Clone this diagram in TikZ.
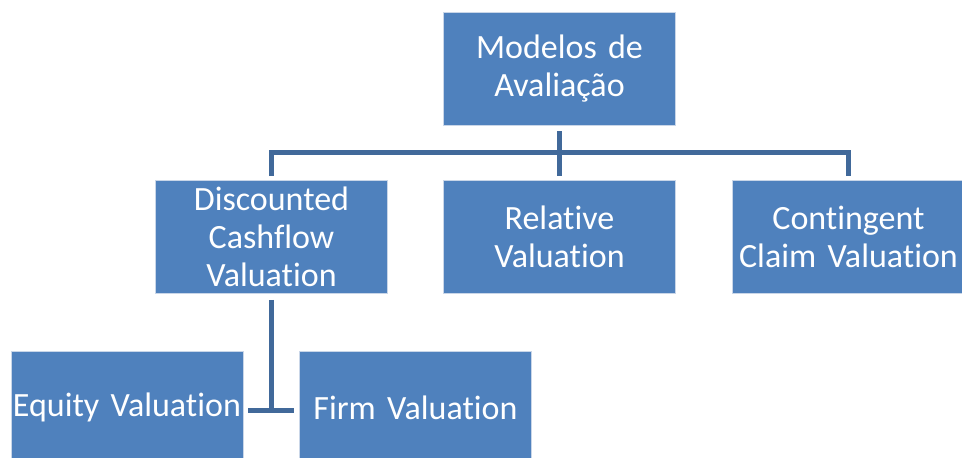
\documentclass[tikz,border=0pt]{standalone}
\usepackage{fontspec}
\setmainfont[RawFeature={-liga;-clig;-calt;-dlig},WordSpace=0.7]{Carlito}
\usetikzlibrary{calc}
\definecolor{boxfill}{HTML}{4F81BD}
\definecolor{boxedge}{HTML}{C9D6E8}
\definecolor{linecol}{HTML}{41699A}
\begin{document}
\begin{tikzpicture}[x=1pt,y=-1pt,
  box/.style={rectangle, fill=boxfill, draw=boxedge, line width=0.8pt,
    minimum width=232pt, minimum height=113pt, inner sep=0pt,
    text width=230pt, align=center, text=white,
    font=\fontsize{34}{38}\selectfont},
  conn/.style={draw=linecol, line width=5pt, line cap=butt, line join=miter}]
\useasboundingbox (0,0) rectangle (962,458);
\node[box] (top) at (559.5,68.5) {Modelos de\\Avaliação};
\node[box] (dcf) at (271.5,237) {Discounted\\Cashflow\\Valuation};
\node[box] (rel) at (559.5,237) {Relative\\Valuation};
\node[box] (cont) at (848.5,237) {Contingent\\Claim Valuation};
\node[box] (eq) at (127,407.5) {Equity Valuation};
\node[box] (firm) at (415.5,407.5) {Firm Valuation};
\coordinate (mid) at ($(top.south)!0.5!(rel.north)$);
\draw[conn] ([yshift=-6pt]top.south) -- ([yshift=4pt]rel.north);
\draw[conn] ([yshift=4pt]dcf.north) |- (mid) -| ([yshift=4pt]cont.north);
\coordinate (tee) at (dcf.south |- eq.east);
\draw[conn] ([yshift=-6pt]dcf.south) -- ([yshift=-2.5pt]tee);
\draw[conn] ([xshift=5pt,yshift=-2.5pt]eq.east) -- ([xshift=-5pt,yshift=-2.5pt]firm.west);
\end{tikzpicture}
\end{document}
